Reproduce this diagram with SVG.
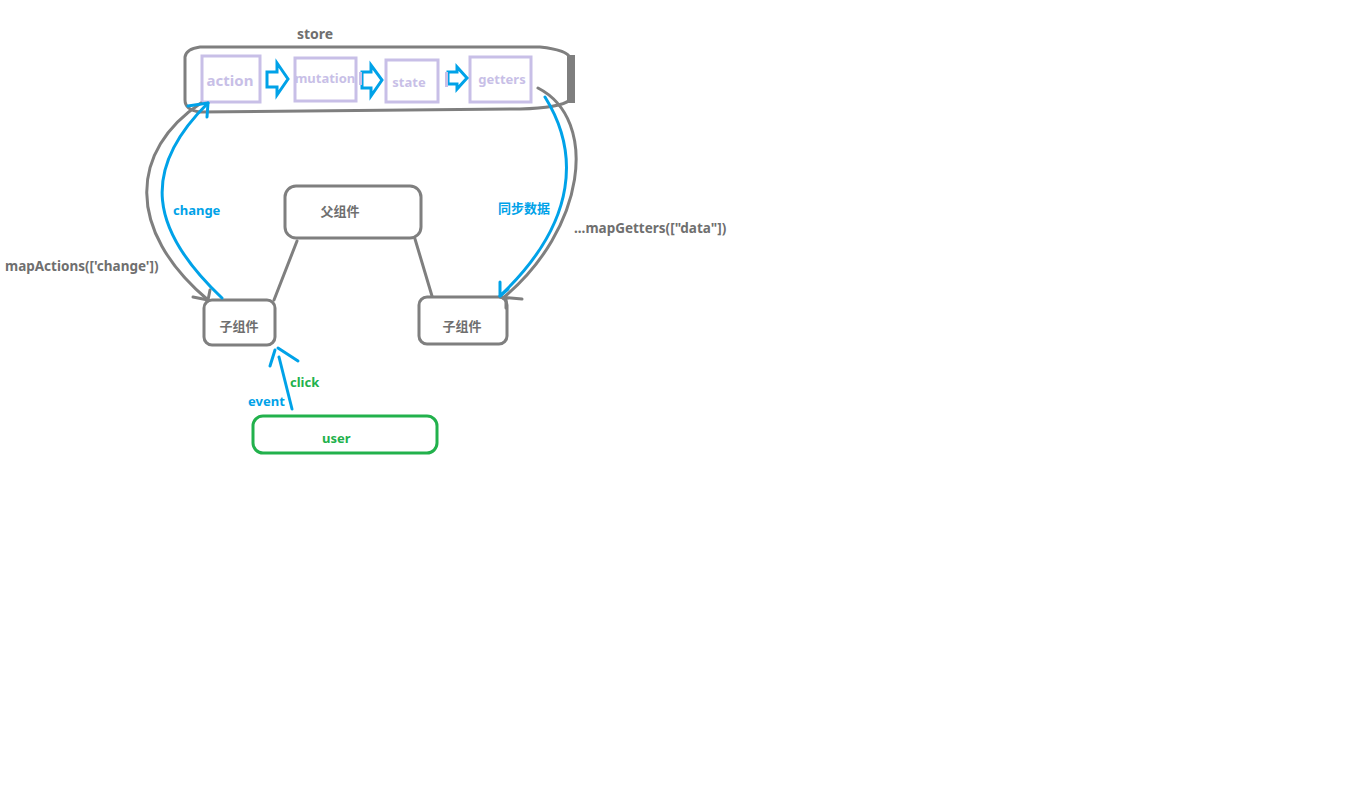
<svg xmlns="http://www.w3.org/2000/svg" width="1349" height="798" viewBox="0 0 1349 798">
<style>
text{font-family:"Noto Sans","Noto Sans CJK SC",sans-serif;font-weight:bold}
.g{fill:none;stroke:#7f7f7f;stroke-width:3;stroke-linecap:round;stroke-linejoin:round}
.b{fill:none;stroke:#00a2e8;stroke-width:3;stroke-linecap:round;stroke-linejoin:round}
.bx{fill:#fff;stroke:#00a2e8;stroke-width:3;stroke-linejoin:miter}
.lav{fill:none;stroke:#c8bfe7;stroke-width:3}
.lt{fill:#c8bfe7;font-size:13px;text-anchor:middle}
.gt{fill:#6f6f6f;font-size:13px}
.bt{fill:#00a2e8;font-size:13px}
.gn{fill:#22b14c;font-size:13px}
</style>
<rect width="1349" height="798" fill="#fff"/>
<g id="store">
<text x="297" y="39" style="fill:#6f6f6f;font-size:14px">store</text>
<path class="g" d="M200,47 L540,47 Q568,50 570,58 L570,100 Q560,108 520,109 L200,112 Q185,110 185,100 L185,57 Q186,49 200,47 Z"/>
<rect x="567" y="55" width="8" height="48" fill="#7f7f7f"/>
</g>
<g id="action"><rect class="lav" x="202" y="56" width="58" height="46"/><text class="lt" x="230" y="86" style="font-size:15px">action</text></g>
<g id="mutation"><rect class="lav" x="295" y="58" width="61" height="43"/><text class="lt" x="325" y="83">mutation</text></g>
<g id="state"><rect class="lav" x="386" y="60" width="52" height="42"/><text class="lt" x="409" y="87">state</text></g>
<g id="getters"><rect class="lav" x="470" y="57" width="61" height="45"/><text class="lt" x="502" y="84">getters</text></g>
<g id="parent"><rect class="g" x="285" y="186" width="136" height="52" rx="11"/><text class="gt" x="340" y="216" text-anchor="middle">父组件</text></g>
<g id="child-left"><rect class="g" x="204" y="300" width="71" height="45" rx="8"/><text class="gt" x="239" y="331" text-anchor="middle">子组件</text></g>
<g id="child-right"><rect class="g" x="419" y="297" width="88" height="47" rx="8"/><text class="gt" x="462" y="331" text-anchor="middle">子组件</text></g>
<g id="user"><rect x="253" y="416" width="184" height="37" rx="10" fill="none" stroke="#22b14c" stroke-width="3"/><text class="gn" x="322" y="443">user</text></g>
<g id="connectors">
<path class="bx" d="M267,72 L277,72 L277,63 L288,79 L277,95 L277,87 L267,87 Z"/>
<path class="bx" d="M362,72 L371,72 L371,65 L382,80 L371,96 L371,88 L362,88 Z"/>
<path class="bx" d="M448,72 L457,72 L457,67 L467,78 L457,89 L457,84 L448,84 Z"/>
<rect x="359" y="72" width="3" height="13" fill="#c8bfe7"/>
<rect x="445" y="72" width="3" height="15" fill="#c8bfe7"/>
<path class="g" d="M201,103 C130,150 125,230 208,300"/>
<path class="g" d="M193,297 L208,300 L210,290"/>
<path class="b" d="M222,298 C150,230 140,170 208,103"/>
<path class="b" d="M188,106 L208,103 L207,117"/>
<path class="g" d="M538,88 C600,120 585,230 503,298"/>
<path class="g" d="M500,297 L522,299 M506,298 L506,308"/>
<path class="b" d="M545,97 C578,150 580,220 500,296"/>
<path class="b" d="M500,282 L500,296 L508,289"/>
<path class="g" d="M297,241 L274,300"/>
<path class="g" d="M415,239 L432,296"/>
<path class="b" d="M292,409 L279,357"/>
<path class="b" d="M270,366 L275,350 M278,348 L298,361"/>
<text class="bt" x="173" y="215">change</text>
<text class="gt" x="5" y="271" style="font-size:13.5px">mapActions(['change'])</text>
<text class="bt" x="498" y="213">同步数据</text>
<text class="gt" x="574" y="233" style="font-size:13.5px">...mapGetters(["data"])</text>
<text class="gn" x="290" y="387">click</text>
<text class="bt" x="248" y="406">event</text>
</g>
</svg>
